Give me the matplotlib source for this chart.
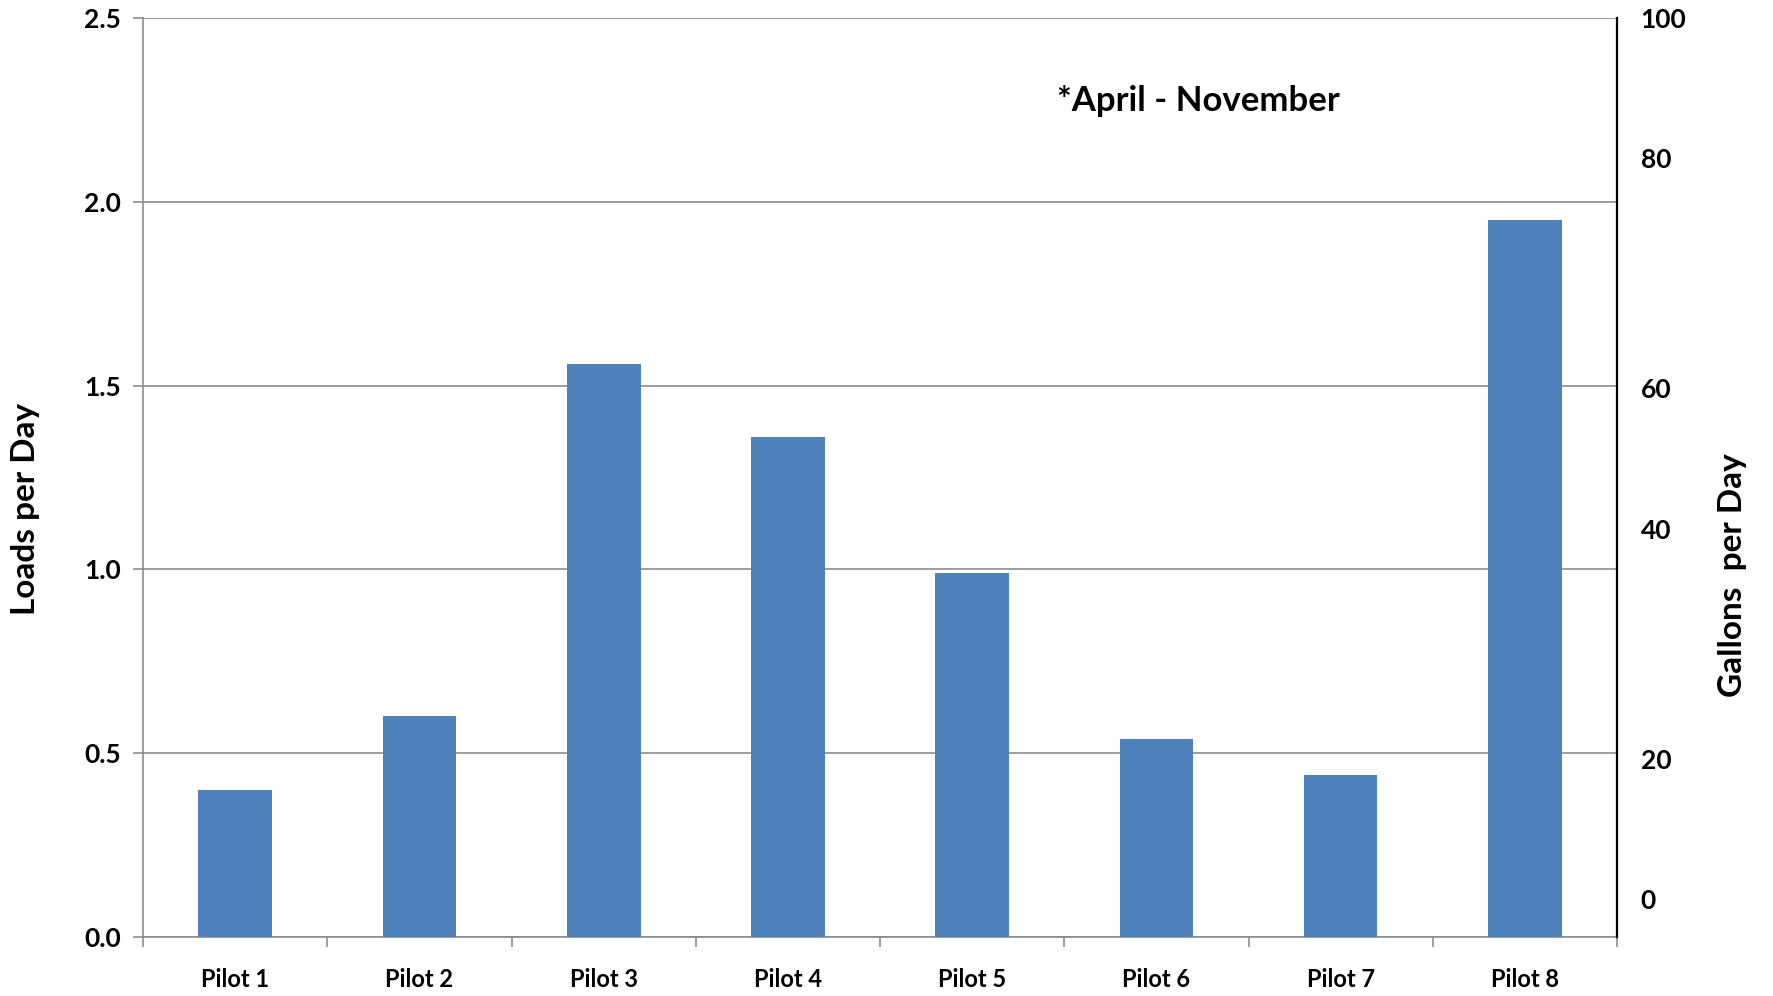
import numpy as np
import matplotlib
matplotlib.use("Agg")
import matplotlib.pyplot as plt

# data
pilots = ["Pilot 1", "Pilot 2", "Pilot 3", "Pilot 4", "Pilot 5", "Pilot 6", "Pilot 7", "Pilot 8"]
loads = [0.40, 0.60, 1.56, 1.36, 0.99, 0.54, 0.44, 1.95]
load_ticks = [0.0, 0.5, 1.0, 1.5, 2.0, 2.5]
# right axis labels sit at uneven heights in the original
gallon_tick_pos = [4.1, 19.4, 44.4, 59.7, 84.8, 100]
gallon_labels = ["0", "20", "40", "60", "80", "100"]

plt.rcParams['font.family'] = ['Lato', 'DejaVu Sans']
plt.rcParams['font.weight'] = 'bold'

grey = "#8c8c8c"
blue = "#4F81BD"

fig = plt.figure(figsize=(17.73, 9.96), dpi=100)
ax = fig.add_axes([0.0807, 0.0592, 0.912 - 0.0807, 0.982 - 0.0592])

x = np.arange(len(pilots))
ax.bar(x, loads, width=0.4, color=blue, zorder=3)

ax.set_xlim(-0.5, len(pilots) - 0.5)
ax.set_ylim(0, 2.5)
ax.set_yticks(load_ticks)
ax.set_yticklabels([f"{v:.1f}" for v in load_ticks], fontweight='bold')
ax.yaxis.grid(True, color=grey, linewidth=1.2, zorder=0)

ax.set_xticks(x)
ax.set_xticklabels(pilots, fontweight='bold')
ax.set_xticks(np.arange(len(pilots) + 1) - 0.5, minor=True)
ax.tick_params(axis='x', which='major', length=0, pad=22, labelsize=17)
ax.tick_params(axis='x', which='minor', length=7, color=grey, width=1.2)
ax.tick_params(axis='y', length=7, color=grey, width=1.2, pad=9, labelsize=19)

for s in ['top', 'right']:
    ax.spines[s].set_visible(False)
for s in ['left', 'bottom']:
    ax.spines[s].set_color(grey)
    ax.spines[s].set_linewidth(1.2)

ax.set_ylabel("Loads per Day", fontsize=24, fontweight='bold')
ax.yaxis.set_label_coords(-0.070, 0.466)

ax2 = ax.twinx()
ax2.set_ylim(0, 100)
ax2.set_yticks(gallon_tick_pos)
ax2.set_yticklabels(gallon_labels, fontweight='bold')
ax2.tick_params(axis='y', length=0, pad=17, labelsize=19)
for s in ['top', 'left', 'bottom']:
    ax2.spines[s].set_visible(False)
ax2.spines['right'].set_color('black')
ax2.spines['right'].set_linewidth(1.6)

fig.text(0.977, 0.423, "Gallons  per Day", rotation=90, ha='center', va='center',
         fontsize=24, fontweight='bold')

ax.text(0.716, 0.91, "*April - November", transform=ax.transAxes, ha='center', va='center',
        fontsize=25, fontweight='bold')

fig.savefig("out.png", dpi=100)
